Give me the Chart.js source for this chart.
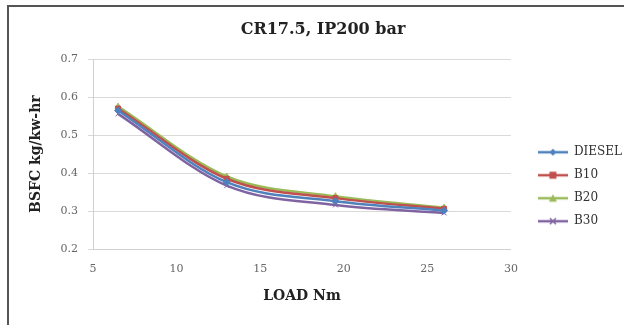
<!DOCTYPE html>
<html>
<head>
<meta charset="utf-8">
<script src="https://cdn.jsdelivr.net/npm/chart.js@4.4.1/dist/chart.umd.min.js"></script>
<style>
  html, body { margin: 0; padding: 0; background: #fff; }
  #wrap { width: 624px; height: 325px; position: relative; }
</style>
</head>
<body>
<div id="wrap"><canvas id="bsfc-chart" width="624" height="325"></canvas></div>
<script>
// BSFC vs load, CR 17.5 / injection pressure 200 bar
const loads = [6.5, 13, 19.5, 26];
const diesel = [0.565, 0.376, 0.326, 0.301];
const b10 = [0.570, 0.385, 0.334, 0.306];
const b20 = [0.575, 0.391, 0.339, 0.309];
const b30 = [0.556, 0.367, 0.316, 0.295];
const xTicks = [5, 10, 15, 20, 25, 30];

const serif = "'DejaVu Serif', 'Liberation Serif', serif";

// small canvas with a line segment and marker, used as legend symbol
function legendIcon(color, style) {
  const c = document.createElement('canvas');
  c.width = 30; c.height = 10;
  const g = c.getContext('2d');
  g.strokeStyle = color;
  g.lineWidth = 2.5;
  g.beginPath(); g.moveTo(0, 5); g.lineTo(30, 5); g.stroke();
  g.fillStyle = color;
  if (style === 'rectRot') {
    g.beginPath(); g.moveTo(15, 1.5); g.lineTo(18.5, 5); g.lineTo(15, 8.5); g.lineTo(11.5, 5); g.closePath(); g.fill();
  } else if (style === 'rect') {
    g.fillRect(11.5, 1.5, 7, 7);
  } else if (style === 'triangle') {
    g.beginPath(); g.moveTo(15, 1); g.lineTo(19, 8.5); g.lineTo(11, 8.5); g.closePath(); g.fill();
  } else if (style === 'crossRot') {
    g.lineWidth = 1.5;
    g.beginPath(); g.moveTo(12, 2); g.lineTo(18, 8); g.moveTo(18, 2); g.lineTo(12, 8); g.stroke();
  }
  return c;
}

function series(label, values, color, style) {
  return {
    label,
    data: loads.map((x, i) => ({ x, y: values[i] })),
    borderColor: color,
    backgroundColor: color,
    borderWidth: 2.5,
    pointStyle: style,
    pointRadius: 3.5,
    pointBorderWidth: 1,
    cubicInterpolationMode: 'monotone',
    fill: false,
    icon: legendIcon(color, style)
  };
}

// chart frame: dark left and top edges
const frame = {
  id: 'frame',
  afterDraw(chart) {
    const g = chart.ctx;
    g.save();
    g.strokeStyle = '#555';
    g.lineWidth = 2;
    g.beginPath();
    g.moveTo(8, 325); g.lineTo(8, 6); g.lineTo(624, 6);
    g.stroke();
    g.restore();
  }
};

// move legend and title sideways from where the layout put them
const LEGEND_SHIFT = 16;
const TITLE_SHIFT = 9;
const nudge = {
  id: 'nudge',
  afterLayout(chart) {
    if (chart.legend) {
      chart.legend.left += LEGEND_SHIFT;
      chart.legend.right += LEGEND_SHIFT;
    }
    if (chart.titleBlock) {
      chart.titleBlock.left += TITLE_SHIFT;
      chart.titleBlock.right += TITLE_SHIFT;
    }
  }
};

new Chart(document.getElementById('bsfc-chart'), {
  type: 'scatter',
  data: {
    datasets: [
      series('DIESEL', diesel, '#4f81bd', 'rectRot'),
      series('B10', b10, '#c0504d', 'rect'),
      series('B20', b20, '#9bbb59', 'triangle'),
      series('B30', b30, '#8064a2', 'crossRot')
    ]
  },
  options: {
    responsive: false,
    animation: false,
    showLine: true,
    layout: { padding: { left: 12, right: 8, top: 14, bottom: 10 } },
    scales: {
      x: {
        type: 'linear',
        min: 5, max: 30,
        afterBuildTicks: (s) => { s.ticks = xTicks.map(v => ({ value: v })); },
        afterFit: (s) => { s.height = 66; },
        grid: { display: false, drawTicks: true, tickLength: 4 },
        border: { color: '#d0d0d0' },
        ticks: { color: '#666', font: { family: serif, size: 11 }, padding: 10 },
        title: { display: true, text: 'LOAD Nm', color: '#222', font: { family: serif, size: 14, weight: 'bold' }, padding: { top: 4, bottom: 10 } }
      },
      y: {
        min: 0.2, max: 0.7,
        afterFit: (s) => { s.width = 81; },
        grid: { color: '#d9d9d9', tickLength: 5 },
        border: { color: '#d0d0d0' },
        ticks: { stepSize: 0.1, color: '#666', font: { family: serif, size: 11 }, padding: 10,
                 callback: (v) => v.toFixed(1) },
        title: { display: true, text: 'BSFC kg/kw-hr', color: '#222', font: { family: serif, size: 14, weight: 'bold' }, padding: { top: 16, bottom: 0 } }
      }
    },
    plugins: {
      title: {
        display: true,
        text: 'CR17.5, IP200 bar',
        color: '#222',
        font: { family: serif, size: 16, weight: 'bold' },
        padding: { top: 6, bottom: 20 }
      },
      legend: {
        position: 'right',
        title: { display: true, text: ' ', padding: { top: 30 } },
        labels: {
          usePointStyle: true,
          pointStyleWidth: 30,
          color: '#333',
          font: { family: serif, size: 12 },
          padding: 11,
          generateLabels: (chart) => chart.data.datasets.map((d, i) => ({
            text: d.label,
            pointStyle: d.icon,
            fontColor: '#333',
            strokeStyle: d.borderColor,
            fillStyle: d.borderColor,
            lineWidth: 0,
            datasetIndex: i
          }))
        }
      },
      tooltip: { enabled: false }
    }
  },
  plugins: [frame, nudge]
});
</script>
</body>
</html>
